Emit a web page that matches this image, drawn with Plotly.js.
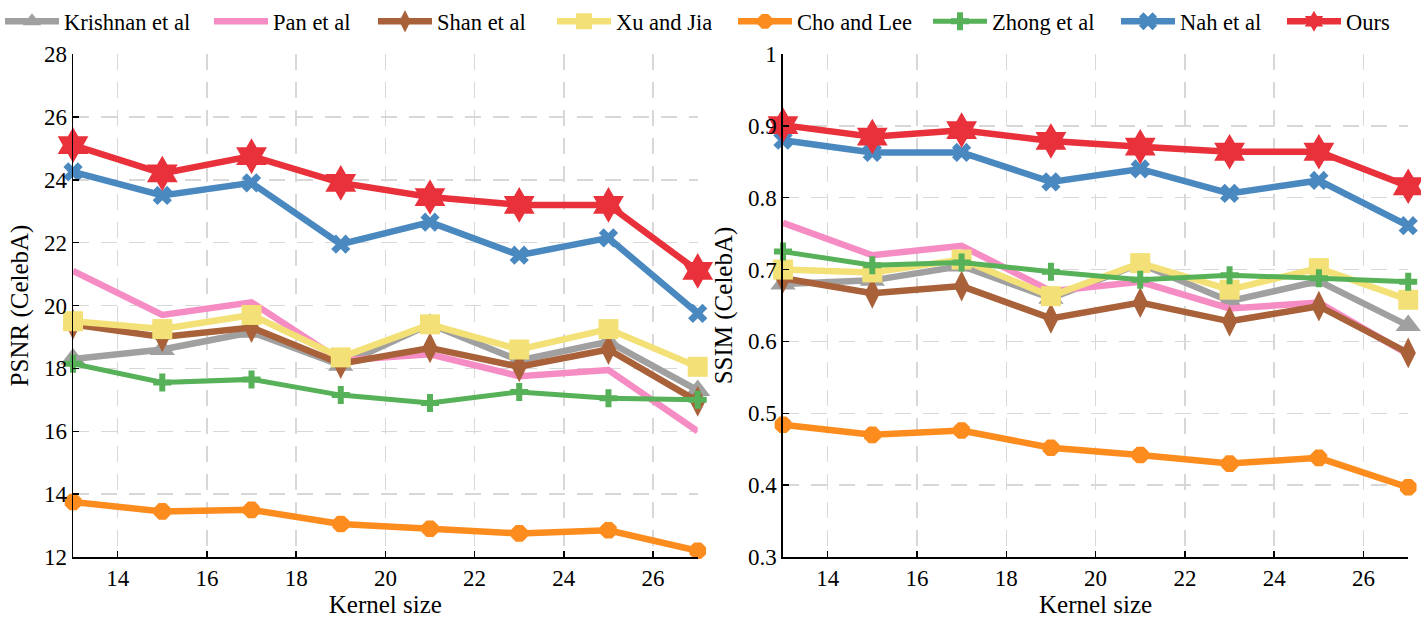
<!DOCTYPE html>
<html>
<head>
<meta charset="utf-8">
<script src="https://cdn.plot.ly/plotly-3.0.1.min.js"></script>
<style>
  html, body { margin: 0; padding: 0; background: #fff; }
  #chart { width: 1421px; height: 618px; }
</style>
</head>
<body>
<div id="chart"></div>
<script>
// kernel sizes on the x axis
var kernel = [13, 15, 17, 19, 21, 23, 25, 27];

var methods = ["Krishnan et al", "Pan et al", "Shan et al", "Xu and Jia",
               "Cho and Lee", "Zhong et al", "Nah et al", "Ours"];

// PSNR (CelebA), left panel
var psnrKrishnan = [18.3, 18.6, 19.15, 18.1, 19.4, 18.25, 18.85, 17.3];
var psnrPan      = [21.1, 19.7, 20.1, 18.25, 18.45, 17.75, 17.95, 16.0];
var psnrShan     = [19.4, 19.0, 19.3, 18.15, 18.65, 18.05, 18.6, 16.95];
var psnrXu       = [19.5, 19.25, 19.7, 18.35, 19.4, 18.6, 19.25, 18.05];
var psnrCho      = [13.75, 13.45, 13.5, 13.05, 12.9, 12.75, 12.85, 12.2];
var psnrZhong    = [18.15, 17.55, 17.65, 17.15, 16.9, 17.25, 17.05, 17.0];
var psnrNah      = [24.25, 23.5, 23.9, 21.95, 22.65, 21.6, 22.15, 19.75];
var psnrOurs     = [25.1, 24.2, 24.75, 23.9, 23.45, 23.2, 23.2, 21.1];

// SSIM (CelebA), right panel
var ssimKrishnan = [0.68, 0.685, 0.705, 0.66, 0.708, 0.656, 0.684, 0.622];
var ssimPan      = [0.765, 0.72, 0.733, 0.67, 0.683, 0.646, 0.654, 0.582];
var ssimShan     = [0.688, 0.667, 0.677, 0.632, 0.654, 0.628, 0.649, 0.584];
var ssimXu       = [0.7, 0.696, 0.714, 0.663, 0.709, 0.672, 0.702, 0.658];
var ssimCho      = [0.484, 0.47, 0.476, 0.452, 0.442, 0.43, 0.438, 0.397];
var ssimZhong    = [0.725, 0.706, 0.71, 0.697, 0.686, 0.692, 0.688, 0.683];
var ssimNah      = [0.88, 0.863, 0.863, 0.822, 0.84, 0.806, 0.824, 0.761];
var ssimOurs     = [0.901, 0.885, 0.894, 0.879, 0.871, 0.864, 0.864, 0.816];

var colors  = ["#a0a0a0", "#f68cc4", "#a9613a", "#f3e177",
               "#fd8c1e", "#56b158", "#4a88c0", "#e8313a"];
var symbols = ["triangle-up", "circle", "diamond-tall", "square",
               "octagon", "cross", "x", "hexagram"];
var sizes   = [22, 0, 22, 20, 18, 15, 17, 27];
// width of each legend entry's text slot, so the row spreads like the original
var legendW = [140, 95, 110, 112, 126, 119, 97, null];

var psnrAll = [psnrKrishnan, psnrPan, psnrShan, psnrXu, psnrCho, psnrZhong, psnrNah, psnrOurs];
var ssimAll = [ssimKrishnan, ssimPan, ssimShan, ssimXu, ssimCho, ssimZhong, ssimNah, ssimOurs];

var traces = [];
function addSeries(vals, xa, ya, i, showleg) {
  var t = {
    x: kernel,
    y: vals,
    xaxis: xa,
    yaxis: ya,
    name: methods[i],
    mode: sizes[i] > 0 ? "lines+markers" : "lines",
    showlegend: showleg,
    legendgroup: methods[i],
    cliponaxis: false,
    line: { color: colors[i], width: i == 5 ? 5 : 6.5 },
    marker: { symbol: symbols[i], size: sizes[i], color: colors[i], line: { width: 0 } },
  };
  if (legendW[i]) t.legendwidth = legendW[i];
  traces.push(t);
}
for (var i = 0; i < methods.length; i++) {
  addSeries(psnrAll[i], "x", "y", i, true);
}
for (var i = 0; i < methods.length; i++) {
  addSeries(ssimAll[i], "x2", "y2", i, false);
}

var serif = "Liberation Serif, Times New Roman, serif";
var tickFont = { family: serif, size: 23, color: "#000" };
var titleFont = { family: serif, size: 25, color: "#000" };

function xAxis(dom, anchor) {
  return {
    domain: dom,
    anchor: anchor,
    range: [13, 27],
    tickvals: [14, 16, 18, 20, 22, 24, 26],
    ticks: "inside",
    ticklen: 6,
    tickwidth: 1.5,
    tickcolor: "#000",
    showline: true,
    linecolor: "#000",
    linewidth: 1.5,
    showgrid: true,
    gridcolor: "#d8d8d8",
    gridwidth: 1.5,
    griddash: "16px,12px",
    zeroline: false,
    tickfont: tickFont,
    title: { text: "Kernel size", font: titleFont, standoff: 14 },
    fixedrange: true,
  };
}
function yAxis(anchor, rng, dt, title, so) {
  return {
    anchor: anchor,
    domain: [0, 1],
    range: rng,
    dtick: dt,
    ticks: "inside",
    ticklen: 6,
    tickwidth: 1.5,
    tickcolor: "#000",
    showline: true,
    linecolor: "#000",
    linewidth: 1.5,
    showgrid: true,
    gridcolor: "#d8d8d8",
    gridwidth: 1.5,
    griddash: "16px,12px",
    zeroline: false,
    tickfont: tickFont,
    title: { text: title, font: titleFont, standoff: so },
    fixedrange: true,
  };
}

var layout = {
  width: 1421,
  height: 618,
  margin: { l: 0, r: 0, t: 54, b: 61 },
  font: { family: serif, color: "#000" },
  paper_bgcolor: "#fff",
  plot_bgcolor: "#fff",
  showlegend: true,
  legend: {
    orientation: "h",
    x: 0,
    xanchor: "left",
    y: 1.107,
    yanchor: "top",
    font: { family: serif, size: 22.5, color: "#000" },
    itemwidth: 54,
    bgcolor: "rgba(0,0,0,0)",
  },
  xaxis: xAxis([0.0514, 0.491], "y"),
  yaxis: yAxis("x", [12, 28], 2, "PSNR (CelebA)", 8),
  xaxis2: xAxis([0.551, 0.991], "y2"),
  yaxis2: yAxis("x2", [0.3, 1], 0.1, "SSIM (CelebA)", 8),
};

Plotly.newPlot("chart", traces, layout, { displayModeBar: false, staticPlot: true });
</script>
</body>
</html>
